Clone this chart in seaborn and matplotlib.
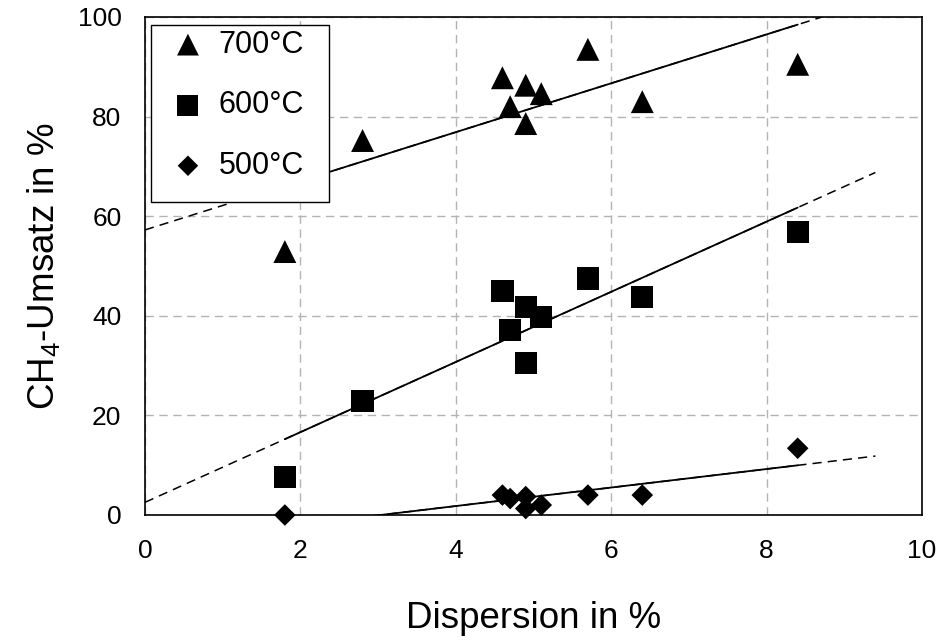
import numpy as np
import pandas as pd
import matplotlib
matplotlib.use("Agg")
import matplotlib.pyplot as plt
from matplotlib.patches import Rectangle
import seaborn as sns

# ---- data ----
disp_700 = [1.8, 2.8, 4.6, 4.7, 4.9, 4.9, 5.1, 5.7, 6.4, 8.4]
conv_700 = [52.9, 75.2, 87.8, 82.0, 86.3, 78.6, 84.6, 93.5, 83.0, 90.5]

disp_600 = [1.8, 2.8, 4.6, 4.7, 4.9, 4.9, 5.1, 5.7, 6.4, 8.4]
conv_600 = [7.7, 22.9, 45.0, 37.1, 41.7, 30.5, 39.8, 47.5, 43.7, 56.9]

disp_500 = [1.8, 4.6, 4.7, 4.9, 4.9, 5.1, 5.7, 6.4, 8.4]
conv_500 = [0.0, 4.0, 3.3, 3.7, 1.3, 2.0, 4.0, 4.0, 13.4]

series_labels = ["700°C", "600°C", "500°C"]
x_ticks = [0, 2, 4, 6, 8, 10]
y_ticks = [0, 20, 40, 60, 80, 100]
forecast_forward = 1.0   # trendline extension (dashed) beyond the data
forecast_back_to = 0.0

sns.set_theme(style="white")
plt.rcParams["font.family"] = ["Liberation Sans", "DejaVu Sans"]
plt.rcParams["mathtext.fontset"] = "custom"
plt.rcParams["mathtext.rm"] = "Liberation Sans"
plt.rcParams["mathtext.it"] = "Liberation Sans:italic"
for key in ["text.color", "axes.labelcolor", "xtick.color", "ytick.color"]:
    plt.rcParams[key] = "black"

fig = plt.figure(figsize=(9.41, 6.42), dpi=100)
ax = fig.add_axes([145 / 941, (642 - 515) / 642, (922 - 145) / 941, (515 - 17) / 642])

ax.set_xlim(0, 10)
ax.set_ylim(0, 100)

ax.grid(True, color="#b3b3b3", linestyle=(0, (6, 4)), linewidth=1.0)
ax.set_axisbelow(True)

groups = [
    (disp_700, conv_700, "^", 16.5, series_labels[0]),
    (disp_600, conv_600, "s", 16.0, series_labels[1]),
    (disp_500, conv_500, "D", 11.0, series_labels[2]),
]

for xs, ys, mk, ms, lab in groups:
    df = pd.DataFrame({"x": xs, "y": ys})
    # solid trendline over the data range
    sns.regplot(data=df, x="x", y="y", ax=ax, scatter=False, ci=None,
                truncate=True, color="black", line_kws=dict(lw=1.3, zorder=2))
    # dashed trendline forecast
    k, d = np.polyfit(xs, ys, 1)
    xe = np.array([forecast_back_to, max(xs) + forecast_forward])
    ax.plot(xe, k * xe + d, color="black", lw=1.1, ls=(0, (6, 4)), zorder=2)

for xs, ys, mk, ms, lab in groups:
    sns.scatterplot(x=xs, y=ys, ax=ax, marker=mk, s=ms ** 2, color="black",
                    edgecolor="none", linewidth=0, label=lab, zorder=3,
                    clip_on=False)

ax.set_xticks(x_ticks)
ax.set_yticks(y_ticks)
ax.tick_params(axis="both", direction="out", length=7, width=1.0, color="black",
               labelsize=19)
ax.tick_params(axis="y", pad=10)
ax.tick_params(axis="x", pad=10)
for s in ax.spines.values():
    s.set_color("black")
    s.set_linewidth(1.2)

ax.set_xlabel("Dispersion in %", fontsize=26.5, labelpad=28)
ax.set_ylabel("CH$_\\mathrm{4}$-Umsatz in %", fontsize=26.5, labelpad=11)

# legend: entries without frame, plus a plain rectangular box
leg = ax.legend(loc="upper left", bbox_to_anchor=(0.012, 0.993), fontsize=22,
                frameon=False, borderpad=0.3, labelspacing=1.0,
                handletextpad=0.2, handlelength=1.6, borderaxespad=0,
                markerscale=0.95)
leg.set_zorder(6)
box = Rectangle((6 / 777, (515 - 202) / 498), (329 - 151) / 777, (202 - 25) / 498,
                transform=ax.transAxes, facecolor="white", edgecolor="black",
                linewidth=1.0, zorder=5)
ax.add_patch(box)

fig.savefig("out.png", dpi=100)
